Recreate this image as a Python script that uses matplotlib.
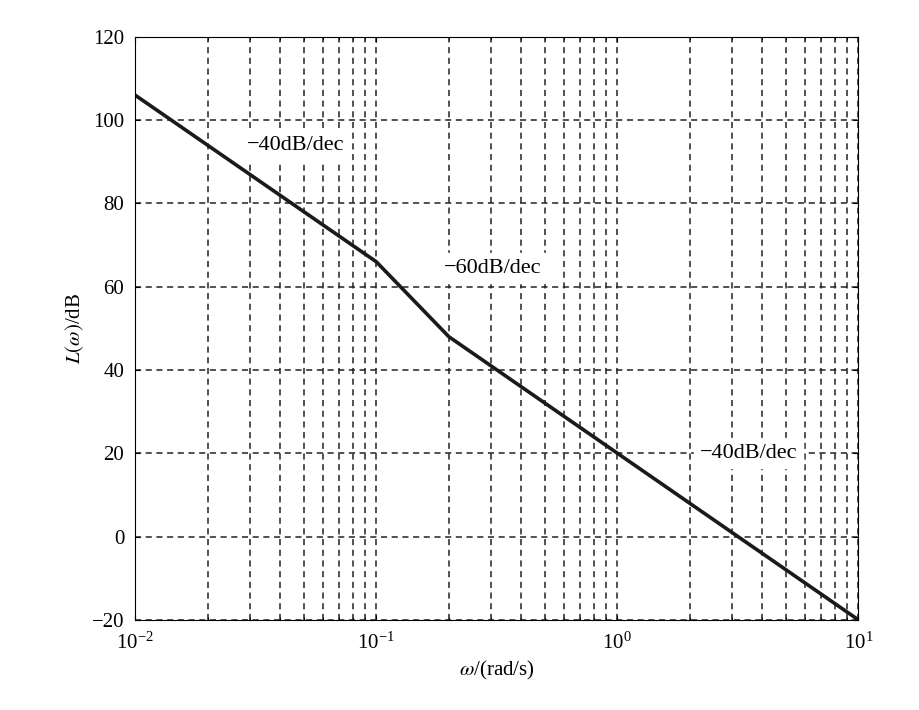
import matplotlib
matplotlib.use("Agg")
import matplotlib.pyplot as plt

plt.rcParams['font.family'] = ['Liberation Serif', 'DejaVu Serif']
plt.rcParams['mathtext.fontset'] = 'stix'

# corner frequencies and asymptotic gain (dB)
omega = [0.01, 0.1, 0.2, 10]
gain_db = [106, 66, 48, -20]

slope_labels = ["\u221240dB/dec", "\u221260dB/dec", "\u221240dB/dec"]
label_pos = [(0.029, 94), (0.19, 64.5), (2.2, 20)]

fig = plt.figure(figsize=(9.2, 7.1), dpi=100)
ax = fig.add_axes([0.147, 0.127, 0.786, 0.821])

ax.semilogx(omega, gain_db, color='#1a1a1a', lw=2.6)

ax.set_xlim(0.01, 10)
ax.set_ylim(-20, 120)
ax.set_yticks(range(-20, 121, 20))
ax.grid(True, which='major', ls=(0, (4, 3)), color='#222', lw=1.1)
ax.grid(True, which='minor', axis='x', ls=(0, (4, 3)), color='#222', lw=1.1)
ax.tick_params(which='both', direction='in', labelsize=15, top=True, right=True)
ax.tick_params(axis='x', pad=9)
ax.tick_params(axis='y', pad=8)
ax.set_yticklabels(["\u221220", "0", "20", "40", "60", "80", "100", "120"])

for txt, (x, y) in zip(slope_labels, label_pos):
    ax.text(x, y, txt, fontsize=16, va='center', backgroundcolor='white')

ax.set_xlabel(r"$\omega$/(rad/s)", fontsize=15)
ax.set_ylabel(r"$L(\omega)$/dB", fontsize=15)

fig.savefig("out.png", dpi=100)
